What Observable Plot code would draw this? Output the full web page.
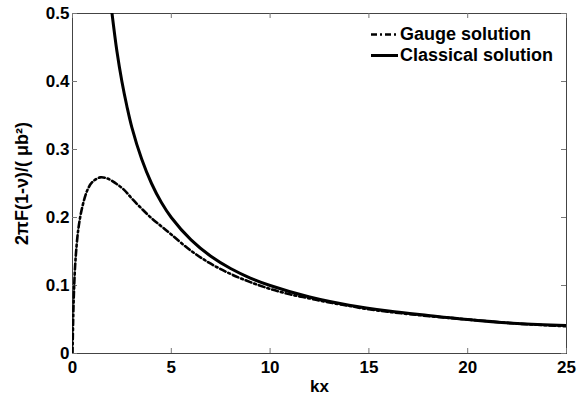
<!DOCTYPE html>
<html><head><meta charset="utf-8">
<script src="https://cdn.jsdelivr.net/npm/d3@7"></script>
<script src="https://cdn.jsdelivr.net/npm/@observablehq/plot@0.6"></script>
<style>
body{margin:0;background:#fff}
#wrap{position:relative;width:579px;height:402px;font-family:"Liberation Sans",Arial,sans-serif;font-weight:bold;color:#000}
.legend{position:absolute;left:370px;top:24px;font-size:18px;line-height:21px}
.legend div{display:flex;align-items:center;white-space:nowrap}
.legend svg{margin-right:1px}
</style></head><body><div id="wrap"></div>
<script>
const xTicks = [0, 5, 10, 15, 20, 25];
const yTicks = [0, 0.1, 0.2, 0.3, 0.4, 0.5];
const seriesNames = ["Gauge solution", "Classical solution"];
const xLabel = "kx";
const yLabel = "2πF(1-ν)/( μb²)";

const gaugeKx  = [0, 0.03, 0.07, 0.15, 0.3, 0.5, 0.75, 1.0, 1.4, 1.8, 2.2, 2.6, 3.0, 3.5, 4.0, 4.5, 5, 6, 7, 8, 9, 10, 11, 12, 13, 14, 15, 17, 20, 22.5, 25];
const gaugeVal = [0, 0.045, 0.088, 0.137, 0.184, 0.216, 0.24, 0.252, 0.259, 0.257, 0.25, 0.241, 0.228, 0.213, 0.199, 0.187, 0.175, 0.151, 0.132, 0.117, 0.105, 0.095, 0.087, 0.081, 0.075, 0.07, 0.065, 0.058, 0.05, 0.044, 0.04];

const classicalKx  = [2, 2.25, 2.5, 2.75, 3, 3.5, 4, 4.5, 5, 6, 7, 8, 9, 10, 12, 14, 16, 18, 20, 22.5, 25];
const classicalVal = [0.5, 0.444, 0.4, 0.364, 0.333, 0.286, 0.25, 0.222, 0.2, 0.167, 0.143, 0.125, 0.111, 0.1, 0.083, 0.071, 0.0625, 0.056, 0.05, 0.044, 0.041];

const gauge = gaugeKx.map((x, i) => ({x, y: gaugeVal[i]}));
const classical = classicalKx.map((x, i) => ({x, y: classicalVal[i]}));

const W = 579, H = 402, mL = 72, mR = 13, mT = 13, mB = 49;
const innerW = W - mL - mR, innerH = H - mT - mB, tk = 5;
const dash = "6,3,2,3";

const chart = Plot.plot({
  width: W, height: H,
  marginLeft: mL, marginRight: mR, marginTop: mT, marginBottom: mB,
  style: {fontFamily: "'Liberation Sans', Arial, sans-serif", fontWeight: "bold", fontSize: "17px", background: "#fff", color: "#000", overflow: "visible"},
  x: {domain: [0, 25]},
  y: {domain: [0, 0.5]},
  marks: [
    Plot.frame({stroke: "#444", strokeWidth: 1}),
    Plot.tickX(xTicks, {x: d => d, insetTop: innerH - tk, stroke: "#777"}),
    Plot.tickX(xTicks, {x: d => d, insetBottom: innerH - tk, stroke: "#777"}),
    Plot.tickY(yTicks, {y: d => d, insetRight: innerW - tk, stroke: "#777"}),
    Plot.tickY(yTicks, {y: d => d, insetLeft: innerW - tk, stroke: "#777"}),
    Plot.line(gauge, {x: "x", y: "y", stroke: "#000", strokeWidth: 2.6, strokeDasharray: dash, curve: "catmull-rom", clip: true}),
    Plot.line(classical, {x: "x", y: "y", stroke: "#000", strokeWidth: 3, curve: "catmull-rom", clip: true}),
    Plot.axisX({ticks: xTicks, tickSize: 0, tickPadding: 7, tickFormat: d => String(d), label: xLabel, labelAnchor: "center", labelArrow: "none", labelOffset: 38}),
    Plot.axisY({ticks: yTicks, tickSize: 0, tickPadding: 3, tickFormat: d => d === 0 ? "0" : d.toFixed(1), label: null}),
    Plot.axisY({ticks: [], tickSize: 0, label: yLabel, labelAnchor: "center", labelArrow: "none", labelOffset: 57, fontSize: 18})
  ]
});

const wrap = document.getElementById("wrap");
wrap.appendChild(chart);

const legend = document.createElement("div");
legend.className = "legend";
const styles = [{dash: dash, w: 2.6}, {dash: null, w: 3}];
seriesNames.forEach((name, i) => {
  const row = document.createElement("div");
  const s = styles[i];
  row.innerHTML = `<svg width="29" height="21"><line x1="1" x2="28" y1="10.5" y2="10.5" stroke="#000" stroke-width="${s.w}" ${s.dash ? `stroke-dasharray="${s.dash}"` : ""}/></svg><span>${name}</span>`;
  legend.appendChild(row);
});
wrap.appendChild(legend);
</script>
</body></html>
